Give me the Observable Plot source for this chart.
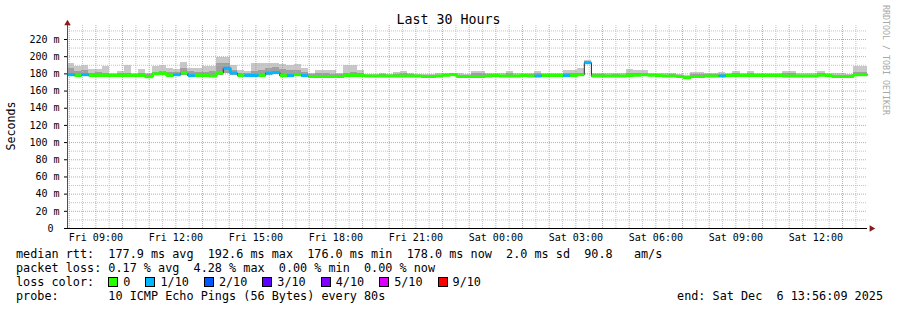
<!DOCTYPE html>
<html>
<head>
<meta charset="utf-8">
<script src="https://cdn.jsdelivr.net/npm/d3@7"></script>
<script src="https://cdn.jsdelivr.net/npm/@observablehq/plot@0.6"></script>
<style>
  html, body { margin: 0; padding: 0; background: #fff; }
  #wrap { position: relative; width: 897px; height: 310px; overflow: hidden;
          font-family: "DejaVu Sans Mono", monospace; color: #000; }
  #chart { position: absolute; left: 0; top: 0; }
  #title { position: absolute; left: 0; width: 897px; top: 12px; line-height: 16px;
           text-align: center; font-size: 13.3px; }
  #ylabel { position: absolute; left: 11px; top: 126px; font-size: 11.6px; white-space: nowrap;
            transform: translate(-50%, -50%) rotate(-90deg); }
  #credit { position: absolute; left: 881px; top: 5px; font-size: 8.3px; color: #a8a8a8;
            writing-mode: vertical-rl; white-space: nowrap; }
  #legend { position: absolute; left: 16px; top: 248px; font-size: 11.8px; line-height: 13.9px;
            white-space: pre; }
  .row { height: 13.9px; }
  .box { display: inline-block; width: 8px; height: 8px; border: 1px solid #000;
         margin-right: 5px; vertical-align: -1px; }
  .lab { display: inline-block; margin-right: 15px; }
  #end { position: absolute; right: 14px; top: 290px; font-size: 11.8px; line-height: 13.9px; white-space: pre; }
</style>
</head>
<body>
<div id="wrap">
  <div id="chart"></div>
  <div id="title"></div>
  <div id="ylabel"></div>
  <div id="credit"></div>
  <div id="legend"></div>
  <div id="end"></div>
</div>
<script>
// ---------- data ----------
const titleText = "Last 30 Hours";
const yAxisTitle = "Seconds";
const creditText = "RRDTOOL / TOBI OETIKER";

// median round-trip time per consolidation step (ms)
const median = [
  179, 178, 179, 178, 178, 178, 178, 178, 178, 178,
  178, 176.5, 180, 180.5, 178, 179, 181, 178, 178, 178,
  177.5, 181, 186.5, 181, 178, 178, 178, 178, 181, 181.5,
  178, 178, 179, 178, 177, 177, 177, 177, 177, 178,
  178, 178, 177.5, 177.5, 177.5, 177.5, 177.5, 177.5, 177.5, 177.5,
  177, 177, 177.5, 178.5, 179, 177, 177, 177, 177, 177.5,
  178, 177.5, 177.5, 177.5, 178, 177.5, 177.5, 178, 178, 178,
  178, 178, 179, 193, 177.5, 177.5, 177.5, 177.5, 177.5, 178,
  178.5, 179, 178.5, 178, 177.5, 177.5, 177, 175.5, 177, 177,
  177.5, 177.5, 177.5, 178, 178, 178, 178, 178, 178, 178,
  178, 177.5, 177.5, 177.5, 177.5, 177.5, 178.5, 178, 177, 177,
  177, 179, 179
];
// highest ping of the step (outer smoke top, ms)
const smokeHi = [
  192.5, 189, 190, 185, 185, 188, 180.5, 182.5, 190, 181,
  185, 181, 188, 190, 186, 185, 193.5, 186, 186, 188,
  188, 199.5, 199, 190, 184, 183, 191.5, 191.5, 192, 192,
  190.5, 190, 191, 186, 181, 184, 184, 184, 181, 190,
  190, 184, 179.5, 179.5, 180, 179, 181.5, 183, 180, 179.5,
  179.5, 179, 180, 180, 180.5, 180, 179.5, 183, 183, 181,
  181, 180, 183, 180, 180, 181, 183, 181, 181, 181,
  184, 184, 186, 196, 181, 181, 180, 181, 180, 185,
  184.5, 184, 180, 181, 180, 181, 179, 178, 182, 182,
  181, 181, 181.5, 180, 183, 180, 183, 180, 180, 180,
  180, 183, 183, 180, 180, 180, 183, 181, 180, 180,
  179.5, 188, 188
];
// top of the darker inner smoke (ms)
const smokeMid = [
  186, 183, 184, 181, 182, 181, 179, 180, 181, 179.5,
  180, 179, 182, 183, 182, 182, 186, 183, 182, 182,
  183, 192, 192, 184, 180, 180, 183, 184, 186, 187,
  185, 184, 184, 182, 179, 180, 180, 179, 179, 181,
  182, 180, 178.5, 178.5, 179, 178.5, 179.5, 180, 179, 178.5,
  178.5, 178, 178.5, 179.5, 180, 178.5, 178, 180, 180, 179,
  179, 178.5, 180, 178.5, 179, 179, 180, 179, 179, 179,
  180, 180, 181, 194.5, 179, 179, 178.5, 179, 178.5, 181,
  181, 181, 179.5, 179, 178.5, 179, 178, 177, 179, 179,
  179, 179, 179, 179, 180, 179, 180, 179, 179, 179,
  179, 180, 180, 178.5, 178.5, 178.5, 180, 179, 178, 178,
  178, 182, 182
];
// lowest ping of the step (smoke bottom, ms)
const smokeLo = [
  177, 176.5, 177, 176.5, 176.5, 176.5, 176.5, 176.5, 176.5, 176.5,
  176.5, 175.5, 178, 178.5, 176.5, 177, 178.5, 176.5, 176.5, 176.5,
  176, 178.5, 180, 178.5, 176.5, 176.5, 176.5, 176.5, 178.5, 179,
  176.5, 176.5, 177, 176.5, 175.5, 175.5, 175.5, 175.5, 175.5, 176.5,
  176.5, 176.5, 176, 176, 176, 176, 176, 176, 176, 176,
  175.5, 175.5, 176, 177, 177.5, 175.5, 175.5, 175.5, 175.5, 176,
  176.5, 176, 176, 176, 176.5, 176, 176, 176.5, 176.5, 176.5,
  176.5, 176.5, 177.5, 191, 176, 176, 176, 176, 176, 176.5,
  177, 177.5, 177, 176.5, 176, 176, 175.5, 174, 175.5, 175.5,
  176, 176, 176, 176.5, 176.5, 176.5, 176.5, 176.5, 176.5, 176.5,
  176.5, 176, 176, 176, 176, 176, 177, 176.5, 175.5, 175.5,
  175.5, 177.5, 177.5
];
// lost pings out of 10 per step
const loss = [
  1, 0, 1, 0, 0, 0, 0, 0, 0, 0,
  0, 0, 0, 0, 0, 1, 0, 1, 0, 0,
  0, 0, 1, 1, 0, 1, 1, 0, 1, 1,
  0, 1, 0, 1, 0, 0, 0, 0, 0, 0,
  0, 0, 0, 0, 0, 0, 0, 0, 0, 0,
  0, 0, 0, 0, 0, 0, 0, 0, 0, 0,
  0, 0, 0, 0, 0, 0, 1, 0, 0, 0,
  1, 0, 0, 1, 0, 0, 0, 0, 0, 0,
  0, 0, 0, 0, 0, 0, 0, 0, 0, 0,
  0, 0, 1, 0, 0, 0, 0, 0, 0, 0,
  0, 0, 0, 0, 0, 0, 0, 0, 0, 0,
  0, 0, 0
];

const lossSteps  = [0, 1, 2, 3, 4, 5, 9];
const lossLabels = ["0", "1/10", "2/10", "3/10", "4/10", "5/10", "9/10"];
const lossColors = ["#26ff00", "#00b8ff", "#0059ff", "#5e00ff", "#7e00ff", "#dd00ff", "#ff0000"];

const yMajorTicks = [0, 20, 40, 60, 80, 100, 120, 140, 160, 180, 200, 220];
const yMinorTicks = [10, 30, 50, 70, 90, 110, 130, 150, 170, 190, 210, 230];

const legendLine1 = "median rtt:  177.9 ms avg  192.6 ms max  176.0 ms min  178.0 ms now  2.0 ms sd  90.8   am/s";
const legendLine2 = "packet loss: 0.17 % avg  4.28 % max  0.00 % min  0.00 % now";
const legendLine3 = "loss color:  ";
const legendLine4 = "probe:       10 ICMP Echo Pings (56 Bytes) every 80s";
const endText = "end: Sat Dec  6 13:56:09 2025";

const startTime = new Date(Date.UTC(2025, 11, 5, 7, 56, 9));
const endTime   = new Date(Date.UTC(2025, 11, 6, 13, 56, 9));

// ---------- build ----------
const stepMs = (endTime - startTime) / median.length;
const lossColor = n => { let c = lossColors[0]; lossSteps.forEach((s, k) => { if (n >= s) c = lossColors[k]; }); return c; };

const rows = median.map((m, i) => ({
  t0: new Date(+startTime + i * stepMs),
  t1: new Date(+startTime + (i + 1) * stepMs),
  med: m, hi: smokeHi[i], mid: smokeMid[i], lo: smokeLo[i], color: lossColor(loss[i])
}));

// thin dark median line
const darkPts = rows.map(r => ({t: r.t0, v: r.med}));
darkPts.push({t: rows[rows.length - 1].t1, v: rows[rows.length - 1].med});

// thick coloured runs by loss class
const runPts = [];
let run = 0;
rows.forEach((r, i) => {
  if (i > 0 && r.color !== rows[i - 1].color) run++;
  runPts.push({t: r.t0, v: r.med, run, color: r.color});
  const last = i === rows.length - 1 || rows[i + 1].color !== r.color;
  if (last) runPts.push({t: r.t1, v: r.med, run, color: r.color});
});

const xMajor = d3.utcHour.range(startTime, endTime);
const xMinor = d3.utcMinute.every(30).range(startTime, endTime).filter(d => d.getUTCMinutes() === 30);
const xLabels = d3.utcHour.every(3).range(startTime, endTime);
const yTop = 236.3;

const chart = Plot.plot({
  width: 897,
  height: 245,
  marginLeft: 67,
  marginRight: 30,
  marginTop: 25,
  marginBottom: 17,
  style: {fontFamily: "DejaVu Sans Mono, monospace", fontSize: "10px", background: "transparent", overflow: "visible"},
  x: {type: "utc", domain: [startTime, endTime]},
  y: {domain: [0, yTop]},
  color: {type: "identity"},
  marks: [
    // smoke
    Plot.rect(rows, {x1: "t0", x2: "t1", y1: "lo", y2: "hi", fill: "#c8c8c8", inset: 0, shapeRendering: "crispEdges"}),
    Plot.rect(rows, {x1: "t0", x2: "t1", y1: "lo", y2: "mid", fill: "#a0a0a0", inset: 0, shapeRendering: "crispEdges"}),
    // grid
    Plot.ruleY(yMinorTicks, {stroke: "#b8b8b8", strokeOpacity: 0.85, strokeDasharray: "1,1"}),
    Plot.ruleX(xMinor, {stroke: "#b8b8b8", strokeOpacity: 0.85, strokeDasharray: "1,1"}),
    Plot.ruleY(yMajorTicks.filter(d => d > 0), {stroke: "#ff6a6a", strokeOpacity: 0.75, strokeDasharray: "1,1"}),
    Plot.ruleX(xMajor, {stroke: "#ff6a6a", strokeOpacity: 0.75, strokeDasharray: "1,1"}),
    // median
    Plot.line(darkPts, {x: "t", y: "v", curve: "step-after", stroke: "#202020", strokeWidth: 1}),
    Plot.line(runPts, {x: "t", y: "v", z: "run", curve: "step-after", stroke: "color", strokeWidth: 3, strokeLinejoin: "miter", strokeLinecap: "butt"}),
    // axes
    Plot.axisY({ticks: yMajorTicks, tickSize: 3, tickPadding: 5, label: null,
                tickFormat: d => d === 0 ? "0\u00a0" : `${d} m`}),
    Plot.axisX({ticks: xLabels, tickSize: 0, tickPadding: 5, label: null,
                tickFormat: d3.utcFormat("%a %H:%M")}),
    Plot.ruleX([startTime], {y1: 0, y2: yTop, stroke: "#5a4a4a"}),
    Plot.ruleY([0], {stroke: "#000"}),
    Plot.dot([startTime], {x: d => d, y: () => yTop, symbol: "triangle", r: 2.4, fill: "#8b1a1a", stroke: null, dy: -2}),
    Plot.dot([endTime], {x: d => d, y: () => 0, symbol: "triangle", r: 2.4, rotate: 90, fill: "#8b1a1a", stroke: null, dx: 4})
  ]
});
document.getElementById("chart").appendChild(chart);

document.getElementById("title").textContent = titleText;
document.getElementById("ylabel").textContent = yAxisTitle;
document.getElementById("credit").textContent = creditText;

const legend = document.getElementById("legend");
[legendLine1, legendLine2].forEach(t => {
  const d = document.createElement("div"); d.className = "row"; d.textContent = t; legend.appendChild(d);
});
const l3 = document.createElement("div"); l3.className = "row";
l3.appendChild(document.createTextNode(legendLine3));
lossLabels.forEach((lab, k) => {
  const b = document.createElement("span"); b.className = "box"; b.style.background = lossColors[k]; l3.appendChild(b);
  const s = document.createElement("span"); s.className = "lab"; s.textContent = lab; l3.appendChild(s);
});
legend.appendChild(l3);
const l4 = document.createElement("div"); l4.className = "row"; l4.textContent = legendLine4; legend.appendChild(l4);
document.getElementById("end").textContent = endText;
</script>
</body>
</html>
